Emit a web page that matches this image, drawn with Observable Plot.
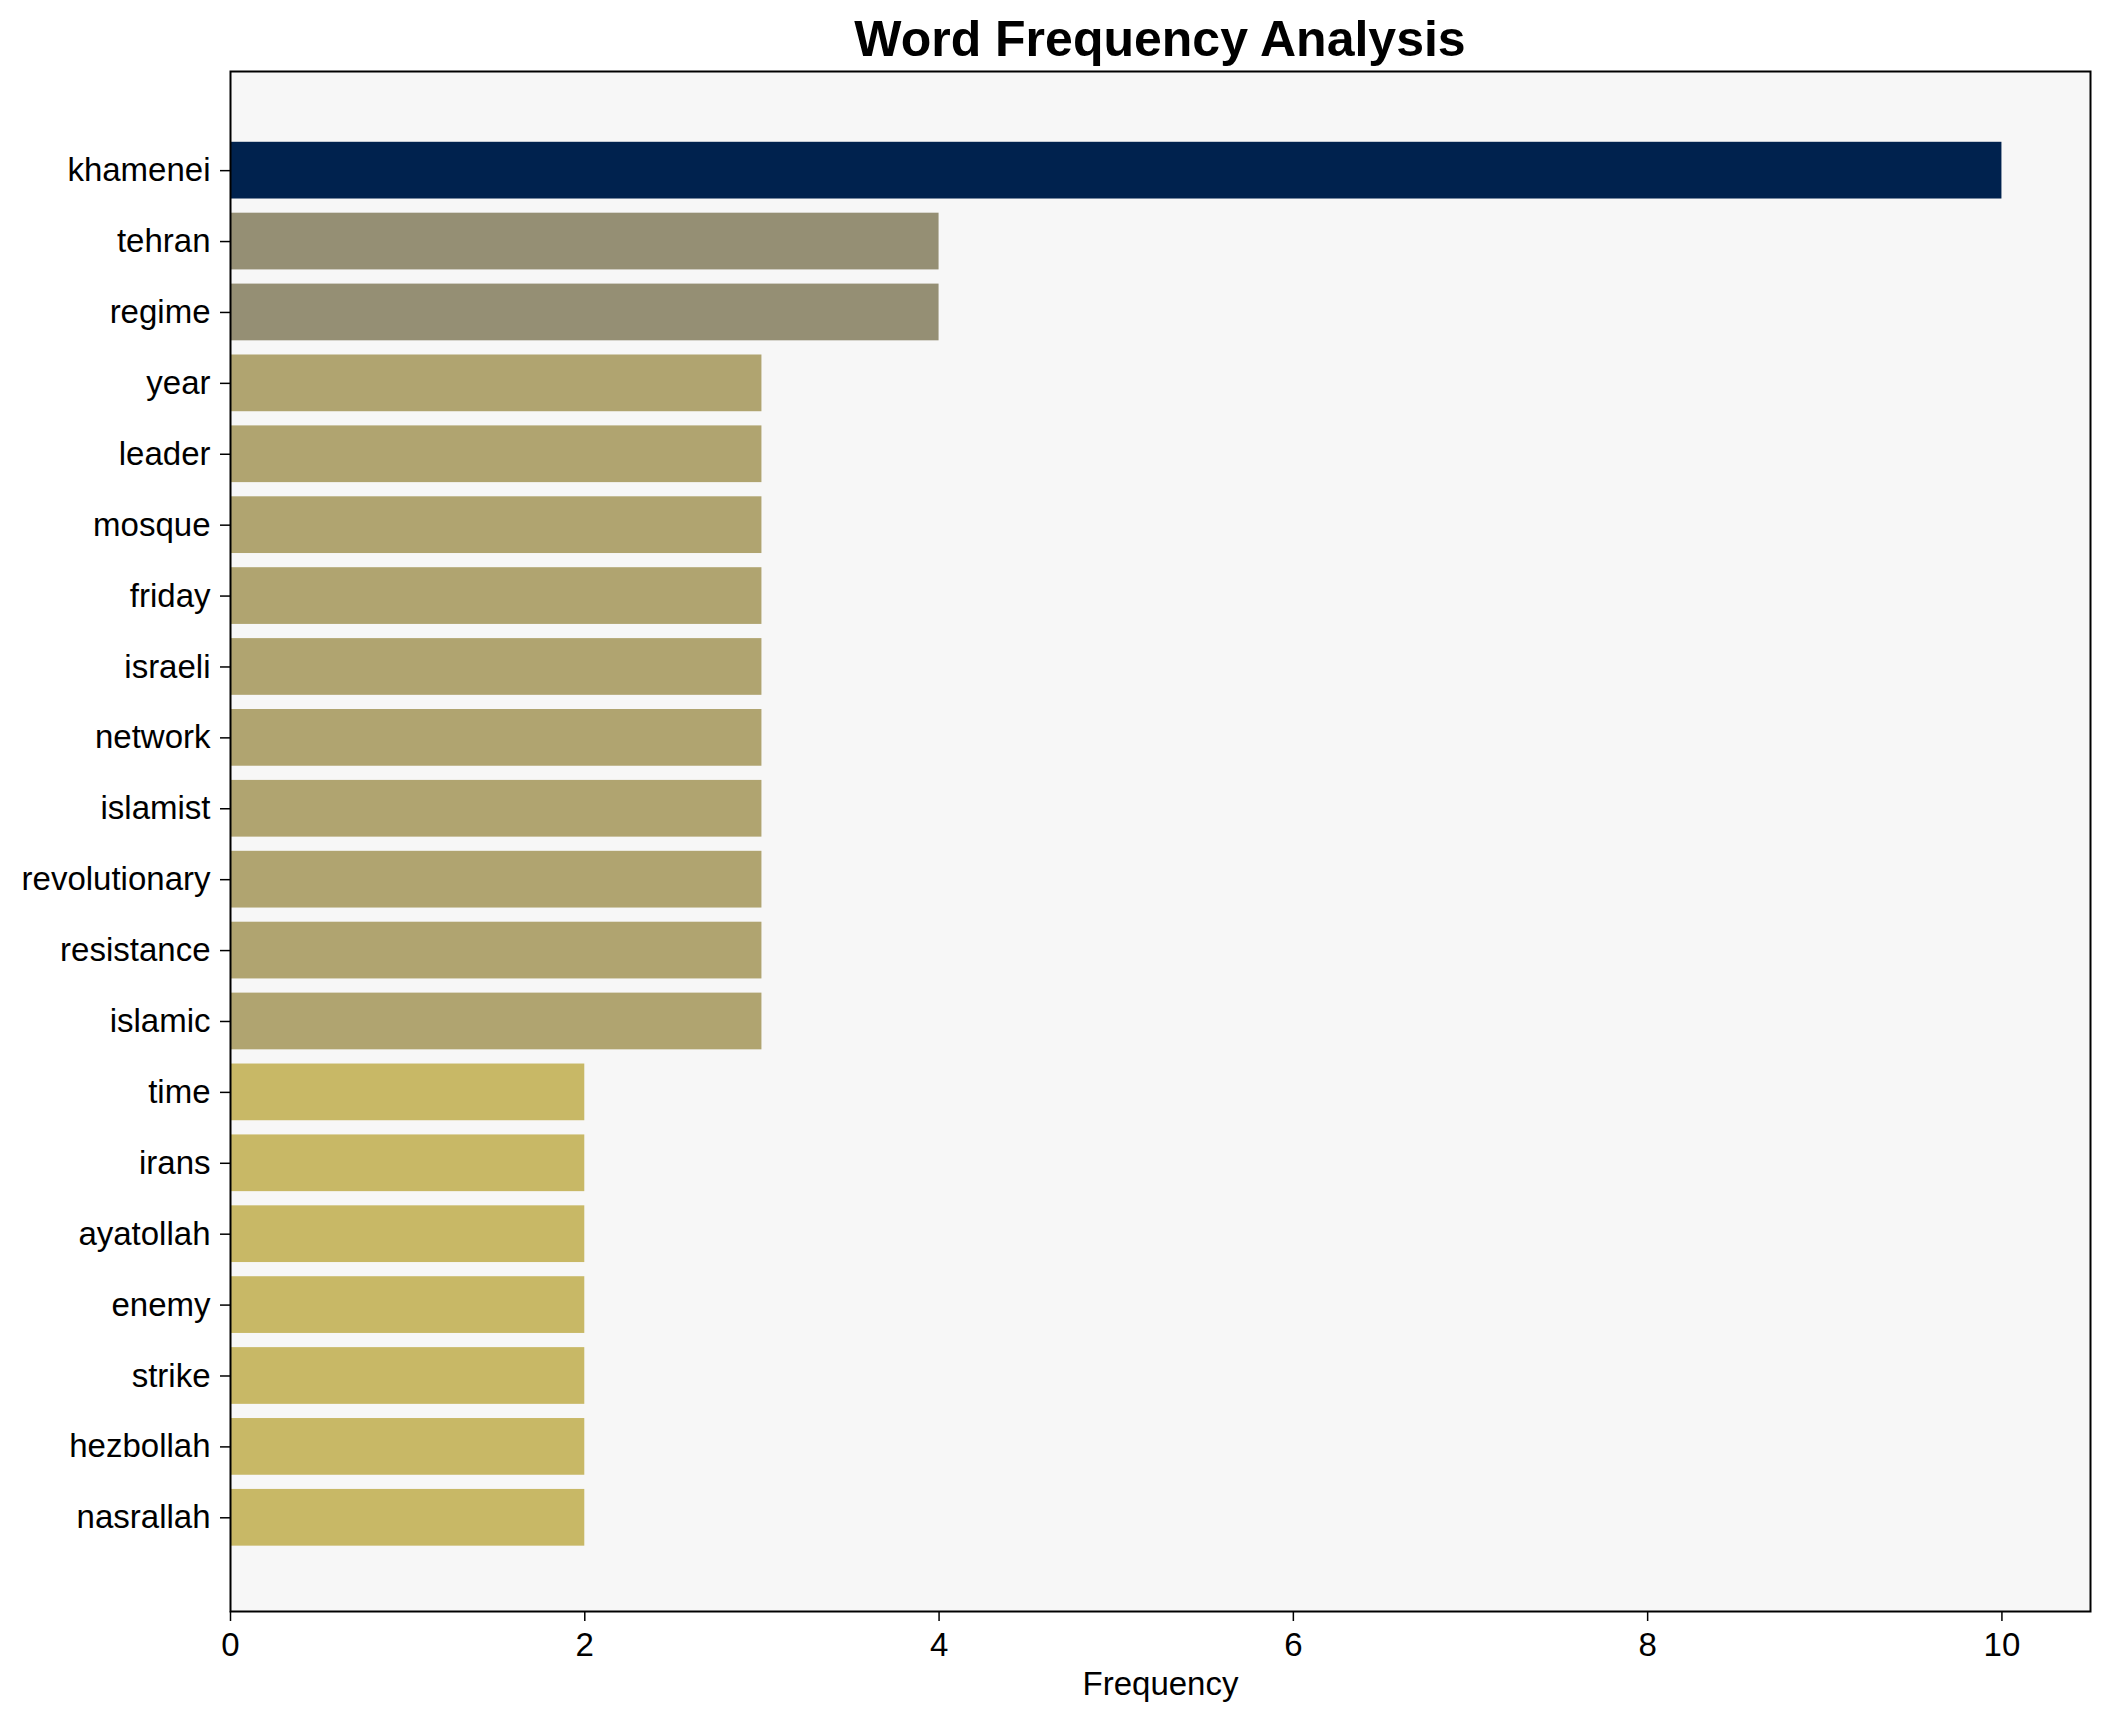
<!DOCTYPE html>
<html>
<head>
<meta charset="utf-8">
<script src="https://cdn.jsdelivr.net/npm/d3@7"></script>
<script src="https://cdn.jsdelivr.net/npm/@observablehq/plot@0.6"></script>
<style>
  html, body { margin: 0; padding: 0; background: #ffffff; }
  #wrap { width: 2110px; height: 1722px; overflow: hidden; font-family: "Liberation Sans", Arial, sans-serif; }
  #title { box-sizing: border-box; width: 2110px; height: 71px; padding-left: 230px; padding-right: 20px; padding-top: 8px;
           text-align: center; font-weight: bold; font-size: 50px; line-height: 62px; color: #000; }
</style>
</head>
<body>
<div id="wrap">
  <div id="title">Word Frequency Analysis</div>
  <div id="chart"></div>
</div>
<script>
const words = ["khamenei","tehran","regime","year","leader","mosque","friday","israeli","network","islamist",
               "revolutionary","resistance","islamic","time","irans","ayatollah","enemy","strike","hezbollah","nasrallah"];
const counts = [10,4,4,3,3,3,3,3,3,3,3,3,3,2,2,2,2,2,2,2];
const colorDomain = [10, 4, 3, 2];
const colorRange = ["#00224e", "#958f74", "#b0a470", "#c8b866"];
const xTicks = [0, 2, 4, 6, 8, 10];

const data = words.map((w, i) => ({word: w, count: counts[i]}));

const chart = Plot.plot({
  width: 2110,
  height: 1651,
  marginTop: 0,
  marginLeft: 230,
  marginRight: 20,
  marginBottom: 111,
  style: {fontFamily: "'Liberation Sans', Arial, sans-serif", fontSize: "33px", color: "#000", background: "transparent", overflow: "visible"},
  x: {domain: [0, 10.5]},
  y: {domain: words, paddingInner: 0.2, paddingOuter: 0.96, align: 0.52, round: false},
  color: {type: "ordinal", domain: colorDomain, range: colorRange},
  marks: [
    Plot.frame({fill: "#f7f7f7"}),
    Plot.barX(data, {x: "count", y: "word", fill: "count"}),
    Plot.frame({stroke: "#000", strokeWidth: 2}),
    Plot.axisX({ticks: xTicks, tickSize: 10, tickPadding: 11, stroke: "#000", strokeWidth: 1.5,
                label: "Frequency", labelAnchor: "center", labelArrow: "none", labelOffset: 83}),
    Plot.axisY({tickSize: 10, tickPadding: 10, stroke: "#000", strokeWidth: 1.5, label: null})
  ]
});
document.getElementById("chart").appendChild(chart);
</script>
</body>
</html>
